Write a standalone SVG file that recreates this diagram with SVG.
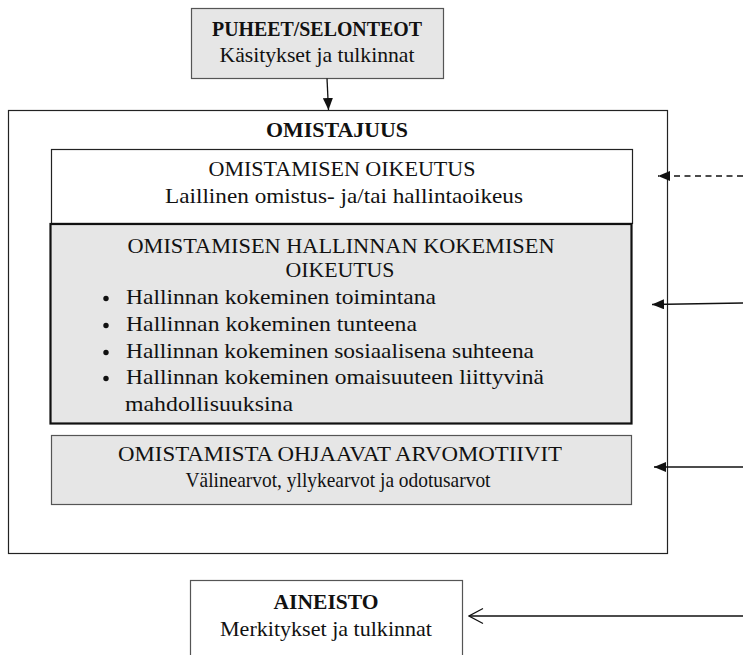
<svg xmlns="http://www.w3.org/2000/svg" width="743" height="655" viewBox="0 0 743 655">
<defs>
<style>
text{font-family:"Liberation Serif","DejaVu Serif",serif;font-size:22px;fill:#111;text-anchor:middle}
.b{font-weight:bold}
.l{text-anchor:start}
.box{fill:#fff;stroke:#222;stroke-width:1.2}
.gbox{fill:#fff;stroke:#555;stroke-width:1.2}
.gray{fill:#e6e6e6;stroke:#555;stroke-width:1.2}
.thick{fill:#e6e6e6;stroke:#111;stroke-width:2.2}
.conn{stroke:#111;stroke-width:1.3;fill:none}
.dot{fill:#111}
</style>
<marker id="ah" viewBox="0 0 12 10" refX="12" refY="5" markerWidth="12" markerHeight="10" markerUnits="userSpaceOnUse" orient="auto"><path d="M0,0L12,5L0,10z" fill="#111"/></marker>
<marker id="open" viewBox="0 0 16 18" refX="15" refY="9" markerWidth="16" markerHeight="18" markerUnits="userSpaceOnUse" orient="auto"><path d="M1,1.5L15,9L1,16.5" fill="none" stroke="#111" stroke-width="1.2"/></marker>
</defs>
<rect width="743" height="655" fill="#fff"/>
<g id="omistajuus">
<rect class="box" x="8.5" y="110.5" width="659" height="443"/>
<text class="b" x="337" y="137" textLength="142" lengthAdjust="spacingAndGlyphs">OMISTAJUUS</text>
</g>
<g id="puheet">
<rect class="gray" x="191.5" y="8.5" width="252" height="70"/>
<text class="b" x="317" y="36" textLength="210" lengthAdjust="spacingAndGlyphs">PUHEET/SELONTEOT</text>
<text x="317" y="62" textLength="195" lengthAdjust="spacingAndGlyphs">Käsitykset ja tulkinnat</text>
</g>
<g id="oikeutus">
<rect class="box" x="51.5" y="149.5" width="581" height="74"/>
<text x="342" y="176" textLength="267" lengthAdjust="spacingAndGlyphs">OMISTAMISEN OIKEUTUS</text>
<text x="344" y="203" textLength="358" lengthAdjust="spacingAndGlyphs">Laillinen omistus- ja/tai hallintaoikeus</text>
</g>
<g id="hallinnan">
<rect class="thick" x="50.5" y="224" width="581" height="199.5"/>
<text x="341" y="253" textLength="427" lengthAdjust="spacingAndGlyphs">OMISTAMISEN HALLINNAN KOKEMISEN</text>
<text x="340" y="277" textLength="109" lengthAdjust="spacingAndGlyphs">OIKEUTUS</text>
<circle class="dot" cx="106" cy="298.5" r="2.7"/>
<circle class="dot" cx="106" cy="325.5" r="2.7"/>
<circle class="dot" cx="106" cy="352.5" r="2.7"/>
<circle class="dot" cx="106" cy="378.5" r="2.7"/>
<text class="l" x="126" y="304" textLength="310" lengthAdjust="spacingAndGlyphs">Hallinnan kokeminen toimintana</text>
<text class="l" x="126" y="331" textLength="291" lengthAdjust="spacingAndGlyphs">Hallinnan kokeminen tunteena</text>
<text class="l" x="126" y="358" textLength="408" lengthAdjust="spacingAndGlyphs">Hallinnan kokeminen sosiaalisena suhteena</text>
<text class="l" x="126" y="384" textLength="418" lengthAdjust="spacingAndGlyphs">Hallinnan kokeminen omaisuuteen liittyvinä</text>
<text class="l" x="125" y="411" textLength="168" lengthAdjust="spacingAndGlyphs">mahdollisuuksina</text>
</g>
<g id="arvomotiivit">
<rect class="gray" x="51.5" y="435.5" width="580" height="69"/>
<text x="340" y="461" textLength="444" lengthAdjust="spacingAndGlyphs">OMISTAMISTA OHJAAVAT ARVOMOTIIVIT</text>
<text x="338" y="487" textLength="305" lengthAdjust="spacingAndGlyphs">Välinearvot, yllykearvot ja odotusarvot</text>
</g>
<g id="aineisto">
<rect class="gbox" x="190.5" y="580.5" width="272" height="80"/>
<text class="b" x="326" y="609" textLength="105" lengthAdjust="spacingAndGlyphs">AINEISTO</text>
<text x="326" y="636" textLength="212" lengthAdjust="spacingAndGlyphs">Merkitykset ja tulkinnat</text>
</g>
<g id="connectors">
<path class="conn" d="M327,78.5L328.5,110" marker-end="url(#ah)"/>
<path class="conn" d="M743,176L658,176" stroke-dasharray="6,4.5" marker-end="url(#ah)"/>
<path class="conn" d="M743,303L652,304.5" marker-end="url(#ah)"/>
<path class="conn" d="M743,467L654,467" marker-end="url(#ah)"/>
<path class="conn" d="M743,616L469,616" marker-end="url(#open)"/>
</g>
</svg>
